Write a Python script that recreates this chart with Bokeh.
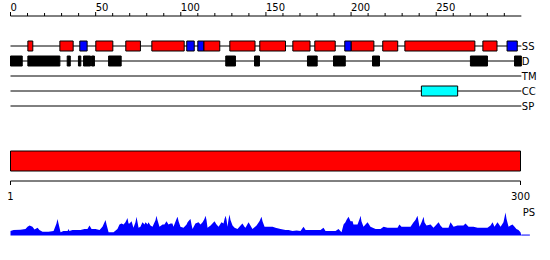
from bokeh.plotting import figure
from bokeh.models import Range1d
from bokeh.core.properties import value
from bokeh.embed import file_html
from bokeh.resources import INLINE

# ---------------- data ----------------
seq_len = 300
track_names = ["SS", "D", "TM", "CC", "SP"]

# secondary structure: H = helix (red), E = strand (blue)
ss_start = [10.2, 29.0, 40.7, 50.1, 67.7, 83.0, 103.5, 110.0, 113.6, 128.8,
            146.4, 165.8, 178.7, 196.3, 200.1, 218.6, 231.6, 277.4, 291.6]
ss_end = [13.1, 36.8, 45.0, 60.1, 76.3, 102.0, 107.9, 113.6, 122.9, 143.6,
          161.5, 175.9, 190.7, 200.1, 213.4, 227.4, 272.7, 285.7, 297.6]
ss_type = ["H", "H", "E", "H", "H", "H", "E", "E", "H", "H",
           "H", "H", "H", "E", "H", "H", "H", "H", "E"]

# disorder
d_start = [0.0, 10.2, 33.3, 39.9, 42.9, 47.6, 57.6, 126.4, 143.3, 174.4,
           189.7, 212.6, 270.1, 296.0]
d_end = [6.9, 29.0, 35.1, 41.3, 47.0, 49.3, 65.0, 132.1, 146.2, 180.1,
         196.6, 216.7, 280.1, 300.0]

# coiled coil
cc_start = [241.3]
cc_end = [262.6]

# domain bar
dom_start = [0.0]
dom_end = [299.5]

# rulers
top_ticks = list(range(0, 300, 10))
top_labels = [0, 50, 100, 150, 200, 250]
bottom_pos = [0.0, 299.5]
bottom_text = ["1", "300"]

# PS profile
ps_pos = [0, 1.8, 5.9, 8.8, 10.0, 11.2, 12.9, 14.1, 15.9, 17.0, 18.8, 22.3, 25.3, 27.0, 27.6,
          28.2, 29.4, 31.1, 33.5, 34.1, 34.6, 36.4, 38.8, 41.1, 43.5, 45.2, 46.4, 47.6, 49.9,
          52.3, 54.0, 55.8, 56.4, 57.6, 60.5, 62.8, 64.0, 65.2, 66.4, 67.5, 68.7, 69.3, 69.9,
          71.1, 72.2, 73.4, 74.0, 74.6, 75.2, 76.3, 77.5, 78.7, 79.3, 80.5, 81.0, 82.2, 83.4,
          85.2, 85.7, 86.3, 87.5, 89.3, 90.4, 91.6, 92.8, 94.0, 95.1, 95.7, 97.5, 98.1, 98.7,
          99.8, 101.6, 103.4, 104.0, 105.1, 105.7, 106.3, 106.9, 108.6, 110.4, 111.6, 112.8,
          113.9, 114.5, 115.1, 115.7, 117.5, 118.6, 119.8, 121.0, 122.2, 123.9, 125.1, 125.7,
          126.3, 126.9, 127.4, 128.0, 128.6, 129.2, 130.4, 131.6, 133.3, 135.1, 136.2, 137.4,
          138.0, 139.8, 140.9, 142.1, 144.5, 146.2, 147.4, 148.0, 149.2, 151.5, 153.9, 155.6,
          158.6, 161.5, 163.3, 165.6, 168.0, 170.3, 172.1, 173.3, 176.2, 179.1, 182.1, 183.8,
          185.0, 187.9, 190.9, 192.6, 194.4, 195.6, 196.7, 197.3, 198.5, 199.7, 200.9, 201.4,
          203.8, 205.0, 205.6, 206.1, 207.3, 208.5, 209.7, 211.4, 214.4, 217.3, 219.1, 221.4,
          224.3, 227.3, 228.4, 229.6, 232.0, 234.9, 236.7, 237.8, 239.0, 239.6, 240.2, 241.4,
          242.6, 243.1, 244.3, 246.7, 248.4, 250.2, 251.4, 252.5, 253.7, 255.5, 257.2, 258.4,
          260.2, 262.5, 264.3, 266.0, 267.2, 269.0, 271.9, 274.3, 277.2, 280.1, 281.9, 283.1,
          284.2, 286.0, 287.8, 289.5, 290.7, 291.3, 292.5, 293.6, 294.8, 296.0, 297.1, 298.3,
          299.5, 300.0]
ps_score = [4, 5, 5.3, 6, 8, 9, 8, 5.5, 7, 5, 3.5, 3.5, 4, 11, 15,
            11, 3, 4, 4, 6, 4, 5, 5, 5, 6, 6, 9, 6, 6,
            5, 8, 14, 10, 3, 3, 6, 10, 11, 10, 12, 16, 11, 11,
            13, 7, 12, 17, 12, 7, 8, 12, 10, 12, 10, 12, 9, 8,
            14, 18, 14, 8, 10, 10, 13, 10, 11, 11, 8, 15, 17, 13,
            8, 7, 10, 12, 14, 15, 10, 6, 11, 12, 10, 12,
            15, 18, 14, 7, 9, 11, 13, 10, 8, 12, 11, 15,
            18, 14, 8, 14, 19, 14, 9, 7, 6, 9, 11, 8,
            7, 12, 9, 6, 9, 13, 17, 13, 8, 8, 8, 7,
            6, 5, 5, 4, 4.5, 4, 8, 5, 5, 5, 5, 7,
            4, 4, 4, 6, 3, 10, 12, 14, 17, 13, 13, 10,
            10, 15, 18, 13, 8, 10, 12, 8, 6, 6, 8, 7,
            7, 7, 10, 8, 8, 8, 12, 14, 18, 13, 8, 12,
            17, 12, 9, 10, 7, 10, 12, 9, 7, 7, 7, 12,
            8, 9, 9, 9, 11, 8, 8, 7, 7, 7, 9, 12,
            8, 12, 8, 12, 21, 15, 8, 9, 10, 8, 6, 5,
            3, 0]

# ---------------- figure ----------------
px_per_res = 510 / 299.5
left_px = 10
W, H = 550, 260

p = figure(width=W, height=H,
           x_range=Range1d(-left_px / px_per_res, (W - left_px) / px_per_res),
           y_range=Range1d(H, 0),
           min_border=0, x_axis_location=None, y_axis_location=None,
           toolbar_location=None, output_backend="svg")
p.outline_line_color = None
p.background_fill_color = "white"
p.border_fill_color = "white"
p.grid.visible = False
ps_scale = 1.1
ps_base = 235
p.extra_y_ranges = {"ps": Range1d(start=-(H - ps_base) / ps_scale, end=ps_base / ps_scale)}

FONT = value("DejaVu Sans")
FS = value("10px")
TEXT_SHIFT = -3.5

# top ruler
ruler_y = 15.5
p.segment(x0=0, x1=seq_len, y0=ruler_y, y1=ruler_y, line_color="black", line_width=1)
p.segment(x0=top_ticks, x1=top_ticks, y0=[ruler_y] * len(top_ticks),
          y1=[ruler_y - (4 if t % 50 == 0 else 3) for t in top_ticks],
          line_color="black", line_width=1)
p.text(x=top_labels, y=[9.5 + TEXT_SHIFT] * len(top_labels), text=[str(t) for t in top_labels],
       text_font=FONT, text_font_size=FS, text_align="left",
       text_baseline="alphabetic", text_color="black")

# tracks
track_y = {name: 45.5 + 15 * i for i, name in enumerate(track_names)}
p.segment(x0=[0] * len(track_names), x1=[seq_len] * len(track_names),
          y0=[track_y[n] for n in track_names], y1=[track_y[n] for n in track_names],
          line_color="black", line_width=1)
p.text(x=[seq_len + 0.3] * len(track_names),
       y=[track_y[n] + 3.7 + TEXT_SHIFT for n in track_names],
       text=track_names, text_font=FONT, text_font_size=FS, text_align="left",
       text_baseline="alphabetic", text_color="black")

half = 5
ss_colors = ["#ff0000" if t == "H" else "#0000ff" for t in ss_type]
box_kw = dict(line_color="black", line_width=1, line_join="miter")
p.quad(left=ss_start, right=ss_end, top=track_y["SS"] - half, bottom=track_y["SS"] + half,
       fill_color=ss_colors, **box_kw)
p.quad(left=d_start, right=d_end, top=track_y["D"] - half, bottom=track_y["D"] + half,
       fill_color="black", **box_kw)
p.quad(left=cc_start, right=cc_end, top=track_y["CC"] - half, bottom=track_y["CC"] + half,
       fill_color="#00ffff", **box_kw)

# domain bar
p.quad(left=dom_start, right=dom_end, top=150.5, bottom=170.5,
       fill_color="#ff0000", **box_kw)

# bottom ruler
by = 180.5
p.segment(x0=bottom_pos[0], x1=bottom_pos[-1], y0=by, y1=by, line_color="black", line_width=1)
p.segment(x0=bottom_pos, x1=bottom_pos, y0=[by] * 2, y1=[by + 4] * 2,
          line_color="black", line_width=1)
p.text(x=bottom_pos, y=[198.5 + TEXT_SHIFT] * 2, text=bottom_text, text_font=FONT,
       text_font_size=FS, text_align="center", text_baseline="alphabetic",
       text_color="black")

# PS profile
p.varea(x=ps_pos, y1=[0] * len(ps_pos), y2=ps_score, y_range_name="ps",
        fill_color="#0000ff")
p.segment(x0=ps_pos[-1], x1=ps_pos[-1] + 5, y0=0.4, y1=0.4, y_range_name="ps",
          line_color="#0000ff", line_width=1)
p.text(x=[seq_len + 0.8], y=[215 + TEXT_SHIFT], text=["PS"], text_font=FONT,
       text_font_size=FS, text_align="left", text_baseline="alphabetic",
       text_color="black")

open("out.html", "w").write(file_html(p, INLINE))
